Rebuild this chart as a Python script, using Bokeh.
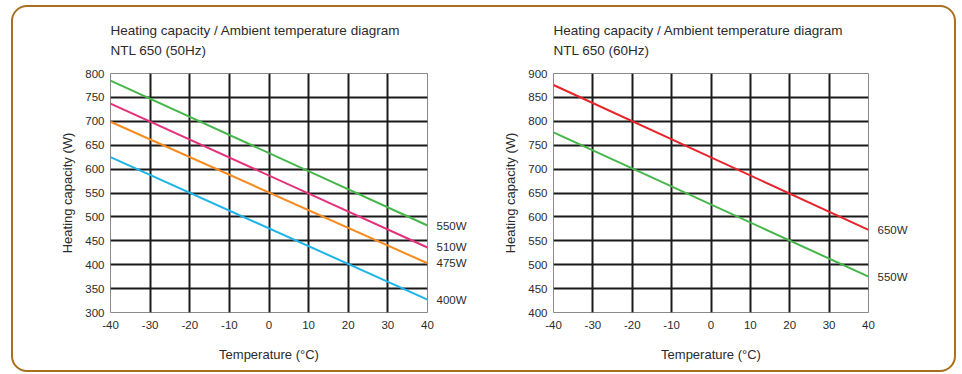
from bokeh.plotting import figure
from bokeh.layouts import row
from bokeh.models import Range1d, FixedTicker, Title, LinearAxis
from bokeh.embed import file_html
from bokeh.resources import INLINE

# ---- data ----
temps = [-40, 40]
x_ticks = [-40, -30, -20, -10, 0, 10, 20, 30, 40]
x_tick_labels = ["-40", "-30", "-20", "-10", "0", "10", "20", "30", "40"]

# 50Hz chart
y50_ticks = [300, 350, 400, 450, 500, 550, 600, 650, 700, 750, 800]
s50_names = ["550W", "510W", "475W", "400W"]
s50_values = [
    [785, 482],
    [737, 436],
    [699, 403],
    [625, 327],
]
s50_colors = ["#45b649", "#e5307a", "#f68b1f", "#1cb4ea"]

# 60Hz chart
y60_ticks = [400, 450, 500, 550, 600, 650, 700, 750, 800, 850, 900]
s60_names = ["650W", "550W"]
s60_values = [
    [876, 573],
    [777, 475],
]
s60_colors = ["#e8232a", "#45b649"]

TXT = "#2b2b2b"
FONT = "Liberation Sans"


def make_chart(title1, title2, yticks, names, values, colors, width, mb_left, mb_right):
    p = figure(width=width, height=363, output_backend="svg", toolbar_location=None,
               x_range=Range1d(temps[0], temps[-1]), y_range=Range1d(yticks[0], yticks[-1]),
               min_border_left=mb_left, min_border_right=mb_right,
               min_border_top=66, min_border_bottom=58)
    p.background_fill_color = "white"
    p.border_fill_color = None
    p.outline_line_color = "#8a8a8a"
    p.outline_line_width = 1

    p.title.text = title1
    p.title.align = "left"
    p.title.text_font = FONT
    p.title.text_font_size = "13.5px"
    p.title.text_font_style = "normal"
    p.title.text_color = TXT
    p.title.standoff = -26
    t2 = Title(text=title2, align="left", text_font=FONT, text_font_size="13.5px",
               text_font_style="normal", text_color=TXT, standoff=32)
    p.add_layout(t2, "above")

    # end-of-line labels as a right-hand axis
    ends = [v[-1] for v in values]
    raxis = LinearAxis(ticker=FixedTicker(ticks=ends),
                       major_label_overrides={e: n for e, n in zip(ends, names)})
    p.add_layout(raxis, "right")

    for ax in (p.xaxis[0], p.yaxis[0], raxis):
        ax.axis_line_color = None
        ax.major_tick_in = 0
        ax.major_tick_out = 0
        ax.minor_tick_line_color = None
        ax.major_tick_line_color = None
        ax.major_label_text_font = FONT
        ax.major_label_text_font_size = "11.5px"
        ax.major_label_text_color = TXT
        ax.axis_label_text_font = FONT
        ax.axis_label_text_font_size = "13px"
        ax.axis_label_text_font_style = "normal"
        ax.axis_label_text_color = TXT
    raxis.major_label_standoff = 9
    p.xaxis[0].ticker = FixedTicker(ticks=x_ticks)
    p.xaxis[0].major_label_overrides = {t: l for t, l in zip(x_ticks, x_tick_labels)}
    p.yaxis[0].ticker = FixedTicker(ticks=yticks)
    p.xaxis[0].major_label_standoff = 8
    p.yaxis[0].major_label_standoff = 6
    p.xaxis[0].axis_label = "Temperature (°C)"
    p.yaxis[0].axis_label = "Heating capacity (W)"
    p.xaxis[0].axis_label_standoff = 15
    p.yaxis[0].axis_label_standoff = 7

    p.xgrid.ticker = FixedTicker(ticks=x_ticks[1:-1])
    p.ygrid.ticker = FixedTicker(ticks=yticks[1:])
    for g in (p.xgrid[0], p.ygrid[0]):
        g.grid_line_color = "#1a1a1a"
        g.grid_line_width = 2

    for v, c in zip(values, colors):
        p.line(temps, v, line_color=c, line_width=2)
    return p


p1 = make_chart("Heating capacity / Ambient temperature diagram", "NTL 650 (50Hz)",
                y50_ticks, s50_names, s50_values, s50_colors, 467, 97, 53)
p2 = make_chart("Heating capacity / Ambient temperature diagram", "NTL 650 (60Hz)",
                y60_ticks, s60_names, s60_values, s60_colors, 474, 73, 86)

layout = row(p1, p2, styles={"border": "2px solid #a9701f", "border-radius": "16px",
                             "margin-left": "11px", "margin-top": "5px",
                             "background-color": "white"})

open("out.html", "w").write(file_html(layout, INLINE))
